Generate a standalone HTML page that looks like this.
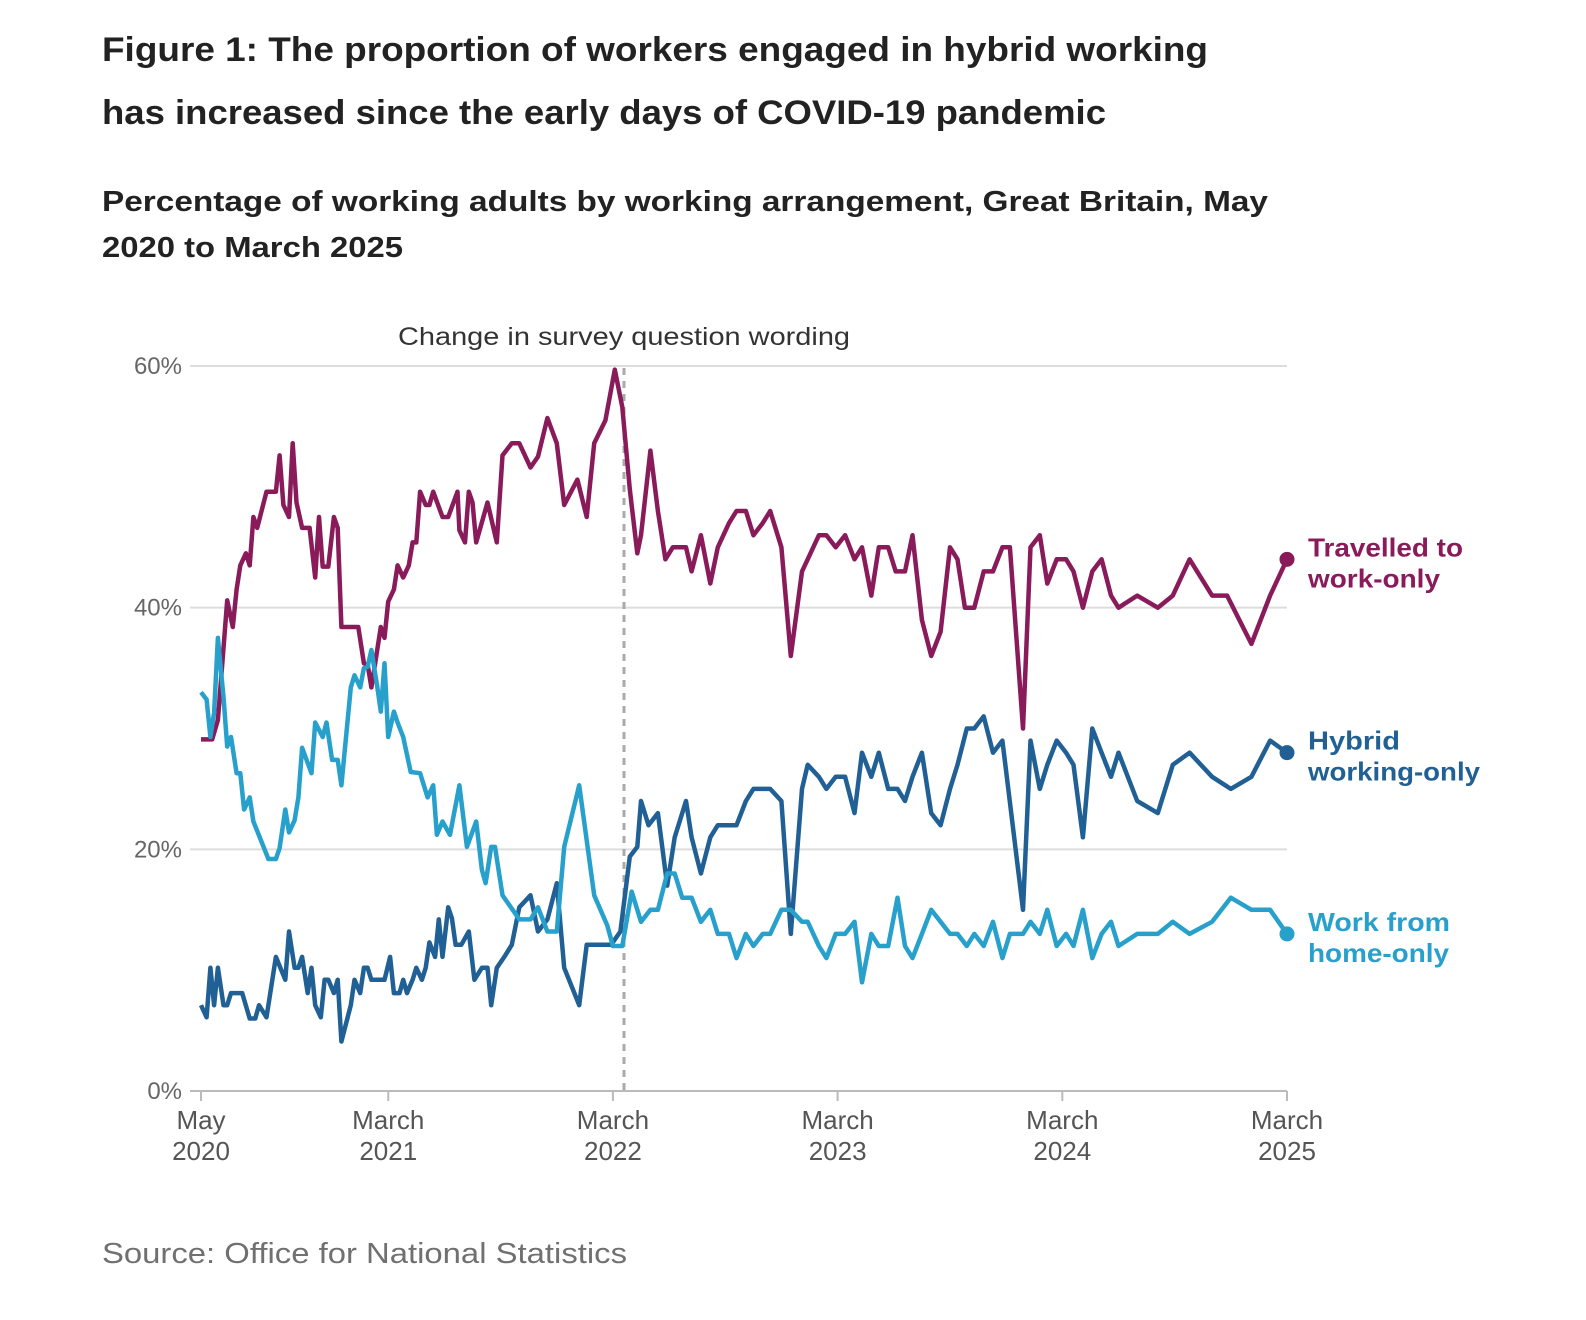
<!DOCTYPE html>
<html><head><meta charset="utf-8"><style>
body{margin:0;background:#fff;}
svg{display:block;font-family:"Liberation Sans",sans-serif;}
</style></head><body>
<svg id="chart" width="1586" height="1320" viewBox="0 0 1586 1320">
<text x="102" y="61" font-size="34" font-weight="bold" fill="#222" textLength="1106" lengthAdjust="spacingAndGlyphs">Figure 1: The proportion of workers engaged in hybrid working</text>
<text x="102" y="124" font-size="34" font-weight="bold" fill="#222" textLength="1004" lengthAdjust="spacingAndGlyphs">has increased since the early days of COVID-19 pandemic</text>
<text x="102" y="211" font-size="29" font-weight="bold" fill="#222" textLength="1166" lengthAdjust="spacingAndGlyphs">Percentage of working adults by working arrangement, Great Britain, May</text>
<text x="102" y="257" font-size="29" font-weight="bold" fill="#222" textLength="301" lengthAdjust="spacingAndGlyphs">2020 to March 2025</text>
<g id="grid"></g>
<g id="axes"></g>
<line x1="624" y1="368" x2="624" y2="1091" stroke="#aaa" stroke-width="3" stroke-dasharray="7,6"/>
<text x="398" y="345" font-size="25" fill="#333" textLength="452" lengthAdjust="spacingAndGlyphs">Change in survey question wording</text>
<g id="series"></g>
<text x="102" y="1263" font-size="29" fill="#707070" textLength="525" lengthAdjust="spacingAndGlyphs">Source: Office for National Statistics</text>
</svg>
<script>
const yTicks=[0,20,40,60];
const xTickMonths=[0,10,22,34,46,58];
const xTickLabels=[["May","2020"],["March","2021"],["March","2022"],["March","2023"],["March","2024"],["March","2025"]];
const seriesNames=["Travelled to work-only","Hybrid working-only","Work from home-only"];
const travelMonths=[0,0.6,0.9,1.4,1.7,1.9,2.1,2.4,2.6,2.8,3.0,3.5,4.0,4.2,4.4,4.7,4.9,5.1,5.4,5.8,6.1,6.3,6.5,6.8,7.1,7.3,7.5,8.4,8.7,8.9,9.1,9.6,9.8,10.0,10.3,10.5,10.8,11.1,11.3,11.5,11.7,12.0,12.2,12.4,12.9,13.2,13.7,13.8,14.1,14.3,14.5,14.7,15.3,15.8,16.1,16.6,17.0,17.6,18.0,18.5,19.0,19.4,20.1,20.6,21.0,21.6,22.1,22.5,22.9,23.3,23.5,24.0,24.4,24.8,25.2,25.9,26.2,26.7,27.2,27.6,28.2,28.6,29.1,29.5,30.0,30.4,31.0,31.5,32.1,32.4,33.0,33.4,33.9,34.4,34.9,35.3,35.8,36.2,36.7,37.1,37.6,38.0,38.5,39.0,39.5,40.0,40.4,40.8,41.3,41.8,42.3,42.8,43.2,43.9,44.3,44.8,45.2,45.7,46.2,46.6,47.1,47.6,48.1,48.6,49.0,50.0,51.1,51.9,52.8,54.0,54.8,56.1,57.1,58.0];
const travelValues=[29.1,29.1,30.7,40.6,38.4,41.5,43.5,44.5,43.5,47.5,46.6,49.6,49.6,52.6,48.5,47.5,53.6,48.7,46.6,46.6,42.5,47.5,43.4,43.4,47.5,46.6,38.4,38.4,35.4,35.3,33.4,38.4,37.5,40.5,41.5,43.5,42.5,43.5,45.4,45.4,49.6,48.5,48.5,49.6,47.5,47.5,49.6,46.4,45.4,49.6,48.7,45.4,48.7,45.4,52.6,53.6,53.6,51.6,52.5,55.7,53.6,48.5,50.6,47.5,53.6,55.5,59.7,56.6,49.8,44.5,46,53,48,44,45,45,43,46,42,45,47,48,48,46,47,48,45,36,43,44,46,46,45,46,44,45,41,45,45,43,43,46,39,36,38,45,44,40,40,43,43,45,45,30,45,46,42,44,44,43,40,43,44,41,40,41,40,41,44,41,41,37,41,44];
const hybridMonths=[0,0.3,0.5,0.7,0.9,1.2,1.4,1.6,2.2,2.6,2.9,3.1,3.5,4.0,4.5,4.7,5.0,5.2,5.4,5.7,5.9,6.1,6.4,6.6,6.8,7.1,7.3,7.5,8.0,8.2,8.5,8.7,8.9,9.1,9.8,10.1,10.3,10.6,10.8,11.0,11.3,11.5,11.8,12.0,12.2,12.5,12.7,12.9,13.2,13.4,13.6,13.9,14.3,14.6,15.0,15.3,15.5,15.8,16.2,16.6,17.0,17.6,18.0,18.5,19.0,19.4,20.2,20.6,21.9,22.4,22.9,23.3,23.5,23.9,24.4,24.9,25.3,25.9,26.2,26.7,27.2,27.6,28.6,29.1,29.5,30.4,31.0,31.5,32.1,32.4,33.0,33.4,33.9,34.4,34.9,35.3,35.8,36.2,36.7,37.2,37.6,38.0,38.5,39.0,39.5,40.0,40.4,40.9,41.3,41.8,42.3,42.8,43.9,44.3,44.8,45.2,45.7,46.2,46.6,47.1,47.6,48.1,48.6,49.0,50.0,51.1,51.9,52.8,54.0,55.0,56.1,57.1,58.0];
const hybridValues=[7.1,6.1,10.2,7.1,10.2,7.1,7.1,8.1,8.1,6.0,6.0,7.1,6.1,11.1,9.2,13.2,10.2,10.2,11.1,8.1,10.2,7.1,6.1,9.2,9.2,8.1,9.2,4.1,7.1,9.2,8.1,10.2,10.2,9.2,9.2,11.1,8.1,8.1,9.2,8.1,9.2,10.2,9.2,10.2,12.3,11.1,14.2,11.1,15.2,14.3,12.1,12.1,13.2,9.2,10.2,10.2,7.1,10.2,11.1,12.1,15.2,16.2,13.2,14.2,17.2,10.2,7.1,12.1,12.1,13.2,19.4,20.2,24,22,23,17,21,24,21,18,21,22,22,24,25,25,24,13,25,27,26,25,26,26,23,28,26,28,25,25,24,26,28,23,22,25,27,30,30,31,28,29,15,29,25,27,29,28,27,21,30,28,26,28,24,23,27,28,26,25,26,29,28];
const wfhMonths=[0,0.3,0.5,0.7,0.9,1.2,1.4,1.6,1.9,2.1,2.3,2.6,2.8,3.6,4.0,4.2,4.5,4.7,5.0,5.2,5.4,5.9,6.1,6.5,6.7,7.0,7.3,7.5,8.0,8.2,8.5,8.7,8.9,9.1,9.4,9.6,9.8,10.0,10.3,10.5,10.8,11.2,11.7,12.1,12.4,12.6,12.9,13.3,13.8,14.2,14.7,15.0,15.2,15.5,15.7,16.1,17.0,17.6,18.0,18.5,19.0,19.4,20.2,21.0,21.7,22.0,22.5,23.0,23.5,24.0,24.4,24.9,25.3,25.7,26.2,26.7,27.2,27.6,28.2,28.6,29.1,29.5,30.0,30.4,31.0,31.5,32.1,32.4,33.0,33.4,33.9,34.4,34.9,35.3,35.8,36.2,36.7,37.2,37.6,38.0,38.5,39.0,39.5,40.0,40.4,40.9,41.3,41.8,42.3,42.8,43.2,43.9,44.3,44.8,45.2,45.7,46.2,46.6,47.1,47.6,48.1,48.6,49.0,50.0,51.1,51.9,52.8,54.0,55.0,56.1,57.1,58.0];
const wfhValues=[33,32.4,29.3,31.3,37.5,32.6,28.5,29.3,26.3,26.3,23.3,24.3,22.3,19.2,19.2,20.1,23.3,21.4,22.4,24.3,28.4,26.3,30.5,29.3,30.5,27.4,27.4,25.3,33.4,34.4,33.4,35.0,35.1,36.5,33.6,31.4,35.4,29.3,31.4,30.5,29.3,26.4,26.3,24.3,25.3,21.2,22.3,21.2,25.3,20.2,22.3,18.3,17.2,20.2,20.2,16.2,14.2,14.2,15.2,13.2,13.2,20.2,25.3,16.2,13.7,12,12,16.5,14,15,15,18,18,16,16,14,15,13,13,11,13,12,13,13,15,15,14,14,12,11,13,13,14,9,13,12,12,16,12,11,13,15,14,13,13,12,13,12,14,11,13,13,14,13,15,12,13,12,15,11,13,14,12,13,13,14,13,14,16,15,15,13];
const colors=["#8a1b5a","#206095","#27a0cc"];

const NS="http://www.w3.org/2000/svg";
const X0=201,X1=1287,Y0=1091,Y1=366;
function xScale(m){return X0+(X1-X0)*m/58;}
function yScale(v){return Y0-(Y0-Y1)*v/60;}
function mk(tag,attrs,parent){const e=document.createElementNS(NS,tag);for(const k in attrs)e.setAttribute(k,attrs[k]);parent.appendChild(e);return e;}
const grid=document.getElementById('grid'),axes=document.getElementById('axes'),ser=document.getElementById('series');
yTicks.forEach(v=>{
  const l=mk('line',{x1:190,x2:1287,y1:yScale(v),y2:yScale(v),stroke:v===0?'#bbb':'#ddd','stroke-width':2},grid);
  
  
  const t=mk('text',{x:182,y:yScale(v)+8,'font-size':24,fill:'#666','text-anchor':'end'},axes);
  t.textContent=v+'%';
  
  
});
xTickMonths.forEach((m,i)=>{
  const x=xScale(m);
  const tk=mk('line',{x1:x,x2:x,y1:Y0,y2:Y0+10,stroke:'#bbb','stroke-width':2},axes);
  
  
  xTickLabels[i].forEach((s,j)=>{
    const t=mk('text',{x:x,y:1129+j*31,'font-size':26,fill:'#555','text-anchor':'middle'},axes);
    t.textContent=s;
    
    
  });
});
const data=[[travelMonths,travelValues],[hybridMonths,hybridValues],[wfhMonths,wfhValues]];
const labelLines=[["Travelled to","work-only"],["Hybrid","working-only"],["Work from","home-only"]];
const labelWidths=[[155,132],[92,172],[142,141]];
data.forEach((d,i)=>{
  const pts=d[0].map((m,k)=>xScale(m).toFixed(1)+','+yScale(d[1][k]).toFixed(1)).join(' ');
  const p=mk('polyline',{points:pts,fill:'none',stroke:colors[i],'stroke-width':4.5,'stroke-linejoin':'round'},ser);
  
  
  const lm=d[0][d[0].length-1],lv=d[1][d[1].length-1];
  const c=mk('circle',{cx:xScale(lm),cy:yScale(lv),r:7.5,fill:colors[i]},ser);
  
  
  labelLines[i].forEach((s,j)=>{
    const t=mk('text',{x:1308,y:yScale(lv)-3+j*31,'font-size':26,'font-weight':'bold',fill:colors[i],textLength:labelWidths[i][j],lengthAdjust:'spacingAndGlyphs'},ser);
    t.textContent=s;
    
    
  });
});
</script>
</body></html>
